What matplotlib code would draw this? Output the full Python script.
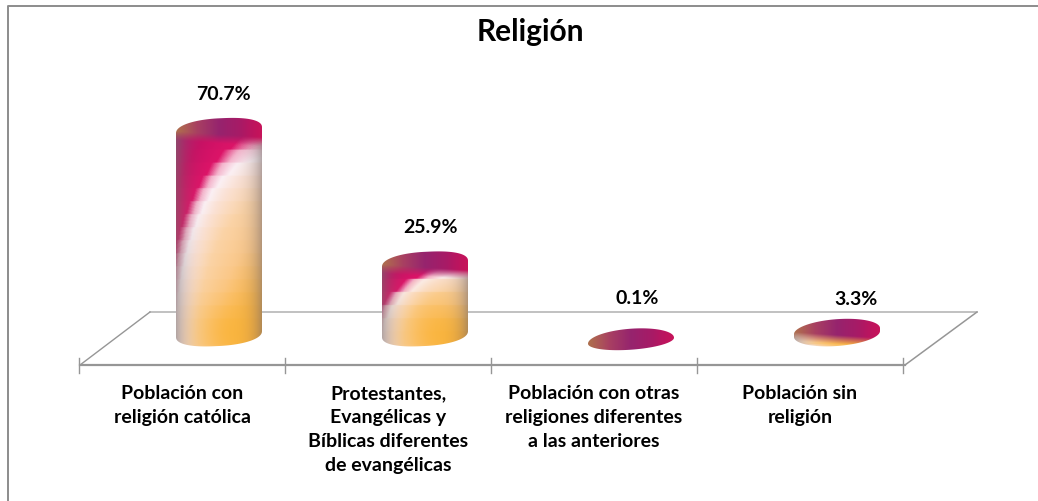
import numpy as np
import matplotlib
matplotlib.use("Agg")
import matplotlib.pyplot as plt
from matplotlib.patches import PathPatch
from matplotlib.path import Path
from matplotlib.colors import LinearSegmentedColormap

categories = [
    "Población con\nreligión católica",
    "Protestantes,\nEvangélicas y\nBíblicas diferentes\nde evangélicas",
    "Población con otras\nreligiones diferentes\na las anteriores",
    "Población sin\nreligión",
]
values = [70.7, 25.9, 0.1, 3.3]
title = "Religión"

# layout (pixels of the 1038x501 canvas mapped to data units)
W_PX, H_PX = 1038, 501
X0_PX, STEP_PX = 219.0, 206.0
Y0_PX, UNIT_PX = 338.0, 2.98

plt.rcParams["font.family"] = ["Lato", "DejaVu Sans"]
fig = plt.figure(figsize=(W_PX / 100, H_PX / 100), dpi=100, facecolor="white")
ax = fig.add_axes([0, 0, 1, 1])
ax.set_xlim(-X0_PX / STEP_PX, (W_PX - X0_PX) / STEP_PX)
ax.set_ylim((Y0_PX - H_PX) / UNIT_PX, Y0_PX / UNIT_PX)
ax.axis("off")
ax.set_autoscale_on(False)


def dx(px):
    return px / STEP_PX


def dy(px):
    return px / UNIT_PX


def X(px):
    return (px - X0_PX) / STEP_PX


def Y(py):
    return (Y0_PX - py) / UNIT_PX


GREY = "#969696"
# chart frame
ax.plot([X(8), X(8), X(1038)], [Y(501), Y(6), Y(6)], color="#8c8c8c", lw=1.4, solid_capstyle="butt")

# floor
ax.plot([X(150), X(977)], [Y(312), Y(312)], color="#b0b0b0", lw=1.1, zorder=1)
ax.plot([X(80), X(150)], [Y(365), Y(312)], color=GREY, lw=1.0, zorder=1)
ax.plot([X(905), X(977)], [Y(365), Y(312)], color=GREY, lw=1.1, zorder=1)
ax.plot([X(80), X(905)], [Y(365), Y(365)], color=GREY, lw=1.6, zorder=1)
for i in range(len(categories) + 1):
    tx = i - 0.5 - 36 / STEP_PX - 0.005
    ax.plot([tx, tx], [Y(358), Y(373)], color=GREY, lw=1.0, zorder=1)

RAMP_MAX = 1.6
side_stops = [
    (0.00, "#fba92e"),
    (0.25, "#fbb84f"),
    (0.50, "#fbc98c"),
    (0.70, "#fbd3a6"),
    (0.86, "#fbe2d6"),
    (0.94, "#fbf0f4"),
    (1.00, "#f4b4cc"),
    (1.06, "#dc1468"),
    (1.22, "#c81064"),
    (1.60, "#8f2a78"),
]
side_cmap = LinearSegmentedColormap.from_list(
    "side", [(s / RAMP_MAX, c) for s, c in side_stops]
)
top_cmap = LinearSegmentedColormap.from_list(
    "top", ["#b4704a", "#a83f62", "#96246e", "#a81a66", "#d00a58"]
)

HALF_W = 43.0
EDGE, TILT = 12.0, 3.0
BASE_PX = 334.0


def arc_pts(cx, cy_px, e_px, a, b, rnd, n=60):
    th = np.linspace(a, b, n)
    c, s = np.cos(th), np.sin(th)
    xs = cx + dx(HALF_W) * np.sign(c) * np.abs(c) ** rnd
    ys = Y(cy_px) + dy(e_px) * np.sign(s) * np.abs(s) ** rnd + dy(TILT) * c
    return np.column_stack([xs, ys])


for i, v in enumerate(values):
    cx = float(i)
    top_px = Y0_PX - v * UNIT_PX
    top_c = top_px + 3
    bot_c = max(BASE_PX, top_c)
    e_bot = EDGE if bot_c == BASE_PX else 9.0
    short = top_c > BASE_PX - 10
    rnd = 1.0 if short else 0.88

    verts = np.vstack([
        arc_pts(cx, top_c, EDGE, np.pi, 0, rnd),
        arc_pts(cx, bot_c, e_bot, 0, -np.pi, rnd),
    ])
    verts = np.vstack([verts, verts[:1]])
    patch = PathPatch(Path(verts), transform=ax.transData, fc="none", ec="none")
    ax.add_patch(patch)

    ext_top, ext_bot = top_c - EDGE - 5, bot_c + e_bot + 5
    py = np.linspace(ext_top, ext_bot, int((ext_bot - ext_top) * 2))
    u = np.linspace(-1.02, 1.02, 120)
    band = np.round(py / 13.0) * 13.0
    uu, yy = np.meshgrid(u, 0.4 * band + 0.6 * py)
    _, yfine = np.meshgrid(u, py)

    # side: curved light falling from the lower right
    hgt = BASE_PX + 12 - (top_c - EDGE)
    b = max(0.92 * hgt - 15.0, 14.0)
    t = np.sqrt(((1.07 - uu) * HALF_W / 95.0) ** 2 + ((340.0 - yy) / b) ** 2)
    rgb = side_cmap(np.clip(t / RAMP_MAX, 0, 1))[..., :3]

    # warm spot low down, near the middle
    glow = np.exp(-(((uu - 0.25) * HALF_W / 34.0) ** 2 + ((yy - 332.0) / 34.0) ** 2))[..., None]
    glow = glow * (t < 1.0)[..., None]
    rgb = rgb * (1 - 0.75 * glow) + np.array([0.98, 0.70, 0.20]) * 0.75 * glow

    # cap: colour runs across the disc and melts into the side
    cap = top_cmap((uu + 1) / 2)[..., :3]
    w = np.clip((top_c + EDGE + 1 - yfine + TILT * uu) / 9.0, 0, 1)[..., None]
    if bot_c > BASE_PX:
        w = np.ones_like(w)
    rgb = rgb * (1 - w) + cap * w

    # darker rim left and right
    k = (0.55 * np.abs(uu) ** 4)[..., None] * (1 - w * 0.8)
    rgb = rgb * (1 - k) + np.array([0.47, 0.42, 0.42]) * k

    ax.imshow(np.clip(rgb, 0, 1),
              extent=[cx - 1.02 * dx(HALF_W), cx + 1.02 * dx(HALF_W), Y(ext_bot), Y(ext_top)],
              aspect="auto", origin="upper", interpolation="bilinear", zorder=3,
              clip_path=patch)

# value labels
label_x_shift = [4, 5, 6, 19]
label_gap = [33, 33, 39, 29]
for i, v in enumerate(values):
    ax.text(i + dx(label_x_shift[i]), v + dy(label_gap[i]), f"{v:.1f}%", ha="center",
            va="center", fontsize=14, fontweight="bold", color="black", zorder=5)

# category labels
for i, c in enumerate(categories):
    ax.text(i - dx(37), Y(385), c, ha="center", va="top", fontsize=14,
            fontweight="bold", color="black", linespacing=1.5, zorder=5)

ax.text(X(530), Y(32), title, ha="center", va="center", fontsize=21.5,
        fontweight="bold", color="black", zorder=5)

fig.savefig("out.png", dpi=100)
